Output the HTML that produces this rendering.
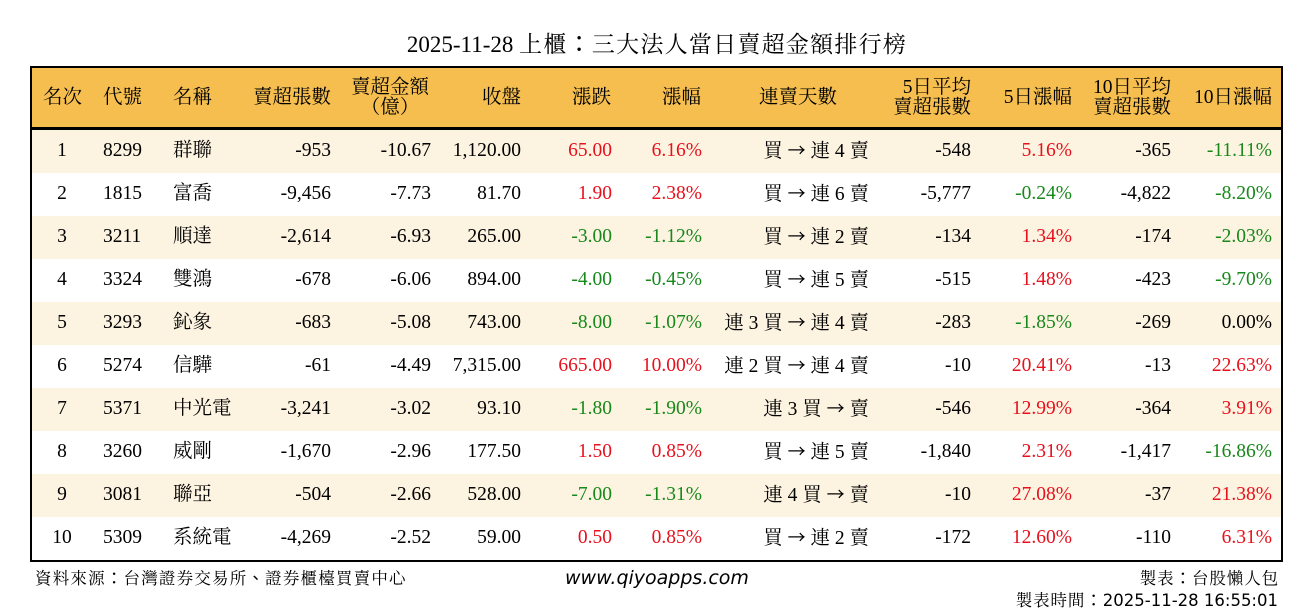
<!DOCTYPE html>
<html>
<head>
<meta charset="utf-8">
<style>
html,body{margin:0;padding:0;background:#fff;}
#pg{position:relative;width:1314px;height:612px;overflow:hidden;background:#fff;
 font-family:"Liberation Serif","Noto Serif CJK SC",serif;color:#000;}
.abs{position:absolute;}
.title{left:0;top:27px;width:1314px;text-align:center;font-size:23px;line-height:30px;white-space:nowrap;}
.title .cj{letter-spacing:1.25px;}
.col{font-family:"Noto Sans CJK TC",sans-serif;}
.ar{font-family:"Noto Sans CJK JP",sans-serif;font-size:18px;}
.hbg{left:30px;top:66px;width:1253px;height:62px;background:#F5BE4F;}
.hline{left:30px;top:127px;width:1253px;height:3px;background:#000;}
.frame{left:30px;top:66px;width:1253px;height:496px;border:2.5px solid #000;box-sizing:border-box;}
.rbg{left:30px;width:1253px;height:43px;}
.odd{background:#FDF3E1;}
.row{left:0;width:1314px;height:43px;font-size:19.5px;line-height:41px;white-space:nowrap;}
.row span{position:absolute;top:0;}
.row span span{position:static;}
.hd{left:0;top:68px;width:1314px;height:59px;font-size:19.5px;line-height:59px;white-space:nowrap;}
.hd span{position:absolute;top:0;}
.hd span.two{top:10px;line-height:20px;}
.r{color:#E8101C;}
.g{color:#17891A;}
.foot{font-size:16.5px;line-height:20px;white-space:nowrap;}
.web{left:565px;top:568px;font-family:"DejaVu Sans",sans-serif;font-style:oblique;font-size:19px;line-height:20px;white-space:nowrap;}
</style>
</head>
<body>
<div id="pg">
<div class="abs title">2025-11-28 <span class="cj">上櫃<span class="col">：</span>三大法人當日賣超金額排行榜</span></div>

<div class="abs hbg"></div>
<div class="abs rbg odd" style="top:130px"></div>
<div class="abs rbg odd" style="top:216px"></div>
<div class="abs rbg odd" style="top:302px"></div>
<div class="abs rbg odd" style="top:388px"></div>
<div class="abs rbg odd" style="top:474px"></div>
<div class="abs hline"></div>

<div class="abs hd">
<span style="left:43px;width:38px;text-align:center">名次</span>
<span style="left:103px">代號</span>
<span style="left:173px">名稱</span>
<span style="right:983px">賣超張數</span>
<span class="two" style="right:883px;width:82px;text-align:center">賣超金額<br>（億）</span>
<span style="right:793px">收盤</span>
<span style="right:703px">漲跌</span>
<span style="right:613px">漲幅</span>
<span style="left:759px">連賣天數</span>
<span class="two" style="right:343px;text-align:right">5日平均<br>賣超張數</span>
<span style="right:242px">5日漲幅</span>
<span class="two" style="right:143px;text-align:right">10日平均<br>賣超張數</span>
<span style="right:42px">10日漲幅</span>
</div>

<div class="abs row" style="top:130px">
<span style="left:43px;width:38px;text-align:center">1</span><span style="left:103px">8299</span><span style="left:173px">群聯</span>
<span style="right:983px">-953</span><span style="right:883px">-10.67</span><span style="right:793px">1,120.00</span>
<span class="r" style="right:702px">65.00</span><span class="r" style="right:612px">6.16%</span>
<span style="right:445px">買 <span class="ar">→</span> 連 4 賣</span><span style="right:343px">-548</span><span class="r" style="right:242px">5.16%</span>
<span style="right:143px">-365</span><span class="g" style="right:42px">-11.11%</span>
</div>

<div class="abs row" style="top:173px">
<span style="left:43px;width:38px;text-align:center">2</span><span style="left:103px">1815</span><span style="left:173px">富喬</span>
<span style="right:983px">-9,456</span><span style="right:883px">-7.73</span><span style="right:793px">81.70</span>
<span class="r" style="right:702px">1.90</span><span class="r" style="right:612px">2.38%</span>
<span style="right:445px">買 <span class="ar">→</span> 連 6 賣</span><span style="right:343px">-5,777</span><span class="g" style="right:242px">-0.24%</span>
<span style="right:143px">-4,822</span><span class="g" style="right:42px">-8.20%</span>
</div>

<div class="abs row" style="top:216px">
<span style="left:43px;width:38px;text-align:center">3</span><span style="left:103px">3211</span><span style="left:173px">順達</span>
<span style="right:983px">-2,614</span><span style="right:883px">-6.93</span><span style="right:793px">265.00</span>
<span class="g" style="right:702px">-3.00</span><span class="g" style="right:612px">-1.12%</span>
<span style="right:445px">買 <span class="ar">→</span> 連 2 賣</span><span style="right:343px">-134</span><span class="r" style="right:242px">1.34%</span>
<span style="right:143px">-174</span><span class="g" style="right:42px">-2.03%</span>
</div>

<div class="abs row" style="top:259px">
<span style="left:43px;width:38px;text-align:center">4</span><span style="left:103px">3324</span><span style="left:173px">雙鴻</span>
<span style="right:983px">-678</span><span style="right:883px">-6.06</span><span style="right:793px">894.00</span>
<span class="g" style="right:702px">-4.00</span><span class="g" style="right:612px">-0.45%</span>
<span style="right:445px">買 <span class="ar">→</span> 連 5 賣</span><span style="right:343px">-515</span><span class="r" style="right:242px">1.48%</span>
<span style="right:143px">-423</span><span class="g" style="right:42px">-9.70%</span>
</div>

<div class="abs row" style="top:302px">
<span style="left:43px;width:38px;text-align:center">5</span><span style="left:103px">3293</span><span style="left:173px">鈊象</span>
<span style="right:983px">-683</span><span style="right:883px">-5.08</span><span style="right:793px">743.00</span>
<span class="g" style="right:702px">-8.00</span><span class="g" style="right:612px">-1.07%</span>
<span style="right:445px">連 3 買 <span class="ar">→</span> 連 4 賣</span><span style="right:343px">-283</span><span class="g" style="right:242px">-1.85%</span>
<span style="right:143px">-269</span><span style="right:42px">0.00%</span>
</div>

<div class="abs row" style="top:345px">
<span style="left:43px;width:38px;text-align:center">6</span><span style="left:103px">5274</span><span style="left:173px">信驊</span>
<span style="right:983px">-61</span><span style="right:883px">-4.49</span><span style="right:793px">7,315.00</span>
<span class="r" style="right:702px">665.00</span><span class="r" style="right:612px">10.00%</span>
<span style="right:445px">連 2 買 <span class="ar">→</span> 連 4 賣</span><span style="right:343px">-10</span><span class="r" style="right:242px">20.41%</span>
<span style="right:143px">-13</span><span class="r" style="right:42px">22.63%</span>
</div>

<div class="abs row" style="top:388px">
<span style="left:43px;width:38px;text-align:center">7</span><span style="left:103px">5371</span><span style="left:173px">中光電</span>
<span style="right:983px">-3,241</span><span style="right:883px">-3.02</span><span style="right:793px">93.10</span>
<span class="g" style="right:702px">-1.80</span><span class="g" style="right:612px">-1.90%</span>
<span style="right:445px">連 3 買 <span class="ar">→</span> 賣</span><span style="right:343px">-546</span><span class="r" style="right:242px">12.99%</span>
<span style="right:143px">-364</span><span class="r" style="right:42px">3.91%</span>
</div>

<div class="abs row" style="top:431px">
<span style="left:43px;width:38px;text-align:center">8</span><span style="left:103px">3260</span><span style="left:173px">威剛</span>
<span style="right:983px">-1,670</span><span style="right:883px">-2.96</span><span style="right:793px">177.50</span>
<span class="r" style="right:702px">1.50</span><span class="r" style="right:612px">0.85%</span>
<span style="right:445px">買 <span class="ar">→</span> 連 5 賣</span><span style="right:343px">-1,840</span><span class="r" style="right:242px">2.31%</span>
<span style="right:143px">-1,417</span><span class="g" style="right:42px">-16.86%</span>
</div>

<div class="abs row" style="top:474px">
<span style="left:43px;width:38px;text-align:center">9</span><span style="left:103px">3081</span><span style="left:173px">聯亞</span>
<span style="right:983px">-504</span><span style="right:883px">-2.66</span><span style="right:793px">528.00</span>
<span class="g" style="right:702px">-7.00</span><span class="g" style="right:612px">-1.31%</span>
<span style="right:445px">連 4 買 <span class="ar">→</span> 賣</span><span style="right:343px">-10</span><span class="r" style="right:242px">27.08%</span>
<span style="right:143px">-37</span><span class="r" style="right:42px">21.38%</span>
</div>

<div class="abs row" style="top:517px">
<span style="left:43px;width:38px;text-align:center">10</span><span style="left:103px">5309</span><span style="left:173px">系統電</span>
<span style="right:983px">-4,269</span><span style="right:883px">-2.52</span><span style="right:793px">59.00</span>
<span class="r" style="right:702px">0.50</span><span class="r" style="right:612px">0.85%</span>
<span style="right:445px">買 <span class="ar">→</span> 連 2 賣</span><span style="right:343px">-172</span><span class="r" style="right:242px">12.60%</span>
<span style="right:143px">-110</span><span class="r" style="right:42px">6.31%</span>
</div>

<div class="abs frame"></div>

<div class="abs foot" style="left:35px;top:567px;letter-spacing:1.2px">資料來源<span class="col">：</span>台灣證券交易所<span class="col">、</span>證券櫃檯買賣中心</div>
<div class="abs web">www.qiyoapps.com</div>
<div class="abs foot" style="right:35px;top:567px;letter-spacing:0.9px">製表<span class="col">：</span>台股懶人包</div>
<div class="abs foot" style="right:36px;top:589px;font-family:'DejaVu Sans','Noto Serif CJK SC',serif;"><span style="letter-spacing:0.9px">製表時間<span class="col">：</span></span>2025-11-28 16:55:01</div>
</div>
</body>
</html>
